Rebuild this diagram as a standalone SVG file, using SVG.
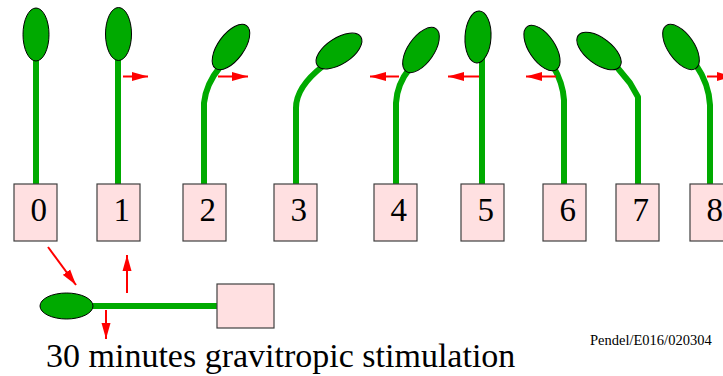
<svg xmlns="http://www.w3.org/2000/svg" width="723" height="376" viewBox="0 0 723 376">
  <style>
    .stem { fill: none; stroke: #00aa00; stroke-width: 6; stroke-linejoin: round; }
    .leaf { fill: #00aa00; stroke: #000; stroke-width: 1; }
    .pot { fill: #ffe0e1; stroke: #404040; stroke-width: 1.2; }
    .num { font-family: "Liberation Serif", "Times New Roman", serif; font-size: 33px; fill: #000; }
    .force { stroke: #ff0000; stroke-width: 2; fill: none; marker-end: url(#head); }
  </style>
  <defs>
    <marker id="head" markerUnits="userSpaceOnUse" viewBox="0 0 16 10" refX="16" refY="5" markerWidth="16" markerHeight="10" orient="auto">
      <path d="M0,0.5 L16,5 L0,9.5 Z" fill="#ff0000"/>
    </marker>
  </defs>
  <rect width="723" height="376" fill="#fff"/>

  <g id="plant0">
    <path class="stem" d="M36 184 V55"/>
    <ellipse class="leaf" cx="36" cy="34.5" rx="13" ry="26.5"/>
    <rect class="pot" x="14" y="184" width="43" height="57"/>
    <text class="num" x="30.5" y="221">0</text>
  </g>
  <g id="plant1">
    <path class="stem" d="M118 184 V55"/>
    <ellipse class="leaf" cx="118.5" cy="34" rx="13" ry="26.5"/>
    <rect class="pot" x="97" y="184" width="43" height="57"/>
    <text class="num" x="113.5" y="221">1</text>
  </g>
  <g id="plant2">
    <path class="stem" d="M204 184 V103 Q206 84 220 67"/>
    <ellipse class="leaf" cx="231" cy="47" rx="13" ry="26.5" transform="rotate(36 231 47)"/>
    <rect class="pot" x="183" y="184" width="43" height="57"/>
    <text class="num" x="199.5" y="221">2</text>
  </g>
  <g id="plant3">
    <path class="stem" d="M296 184 V108 Q296 87 323 66"/>
    <ellipse class="leaf" cx="339" cy="51" rx="13" ry="26" transform="rotate(57 339 51)"/>
    <rect class="pot" x="274" y="184" width="43" height="57"/>
    <text class="num" x="290.5" y="221">3</text>
  </g>
  <g id="plant4">
    <path class="stem" d="M396 184 V103 Q397 84 410 68"/>
    <ellipse class="leaf" cx="421" cy="50" rx="13" ry="26" transform="rotate(35 421 50)"/>
    <rect class="pot" x="374" y="184" width="43" height="57"/>
    <text class="num" x="390.5" y="221">4</text>
  </g>
  <g id="plant5">
    <path class="stem" d="M482 184 V58"/>
    <ellipse class="leaf" cx="478" cy="37" rx="13" ry="26" transform="rotate(3 478 37)"/>
    <rect class="pot" x="461" y="184" width="43" height="57"/>
    <text class="num" x="477.5" y="221">5</text>
  </g>
  <g id="plant6">
    <path class="stem" d="M564 184 V100 Q563 83 553 66"/>
    <ellipse class="leaf" cx="542" cy="48" rx="13" ry="26" transform="rotate(-34 542 48)"/>
    <rect class="pot" x="543" y="184" width="43" height="57"/>
    <text class="num" x="559.5" y="221">6</text>
  </g>
  <g id="plant7">
    <path class="stem" d="M638 184 V97 L630 83 L616 66"/>
    <ellipse class="leaf" cx="599" cy="51" rx="13" ry="26" transform="rotate(-53 599 51)"/>
    <rect class="pot" x="616" y="184" width="43" height="57"/>
    <text class="num" x="632.5" y="221">7</text>
  </g>
  <g id="plant8">
    <path class="stem" d="M710 184 V105 Q709 84 696 65"/>
    <ellipse class="leaf" cx="681" cy="47" rx="13" ry="26" transform="rotate(-35 681 47)"/>
    <rect class="pot" x="690" y="184" width="43" height="57"/>
    <text class="num" x="706.5" y="221">8</text>
  </g>

  <g id="lying-plant">
    <path class="stem" d="M88 306 H218"/>
    <ellipse class="leaf" cx="66.5" cy="306" rx="26.5" ry="13"/>
    <rect class="pot" x="217" y="284" width="57" height="44"/>
  </g>

  <g id="connectors">
    <line class="force" x1="123" y1="76.5" x2="148" y2="76.5"/>
    <line class="force" x1="218" y1="76.5" x2="248" y2="76.5"/>
    <line class="force" x1="399" y1="76.5" x2="370" y2="76.5"/>
    <line class="force" x1="479" y1="76.5" x2="448" y2="76.5"/>
    <line class="force" x1="556" y1="76.5" x2="526" y2="76.5"/>
    <line class="force" x1="707" y1="76.5" x2="733" y2="76.5"/>
    <line class="force" x1="48" y1="247" x2="76" y2="285"/>
    <line class="force" x1="127" y1="293" x2="127" y2="255"/>
    <line class="force" x1="106" y1="310" x2="106" y2="339"/>
  </g>

  <text x="46" y="367" font-family="Liberation Serif, Times New Roman, serif" font-size="34" fill="#000">30 minutes gravitropic stimulation</text>
  <text x="590" y="345" font-family="Liberation Serif, Times New Roman, serif" font-size="14.5" fill="#000">Pendel/E016/020304</text>
</svg>
